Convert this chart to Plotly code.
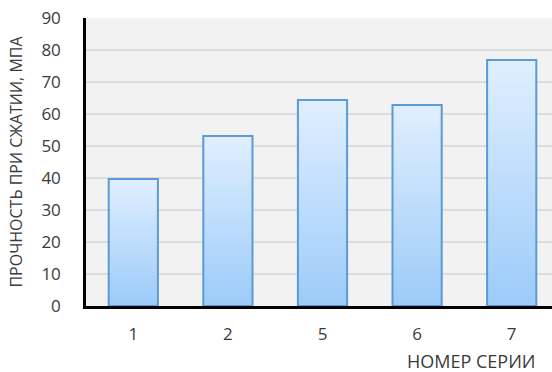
import plotly.graph_objects as go

categories = ["1", "2", "5", "6", "7"]
strength = [39.7, 53.1, 64.4, 62.8, 76.9]
y_ticks = [0, 10, 20, 30, 40, 50, 60, 70, 80, 90]

font_family = "Open Sans, DejaVu Sans, sans-serif"
text_color = "#3a3a3a"
bar_w = 0.52

fig = go.Figure()
for i, v in enumerate(strength):
    x0, x1 = i - bar_w / 2, i + bar_w / 2
    fig.add_trace(go.Scatter(
        x=[x0, x1, x1, x0, x0],
        y=[0, 0, v, v, 0],
        mode="lines",
        fill="toself",
        fillgradient=dict(type="vertical",
                          colorscale=[[0, "#9ccbf9"], [1, "#e0efff"]]),
        line=dict(color="#5b9bd5", width=2),
        hoverinfo="skip",
        showlegend=False,
    ))

fig.update_layout(
    width=552, height=372,
    margin=dict(l=86, r=0, t=18, b=66),
    paper_bgcolor="white",
    plot_bgcolor="#f2f2f2",
    font=dict(family=font_family, color=text_color, size=17),
    showlegend=False,
    xaxis=dict(
        range=[-0.5, 4.426],
        tickmode="array",
        tickvals=list(range(len(categories))),
        ticktext=categories,
        showgrid=False, zeroline=False,
        showline=True, linecolor="black", linewidth=2.5,
        ticks="", ticklabelstandoff=11,
        tickfont=dict(size=17, color=text_color),
        fixedrange=True,
    ),
    yaxis=dict(
        range=[0, 90],
        tickmode="array",
        tickvals=y_ticks,
        showgrid=True, gridcolor="#dcdcdc", gridwidth=1.5,
        zeroline=False,
        showline=True, linecolor="black", linewidth=2.5,
        ticks="", ticklabelstandoff=19,
        tickfont=dict(size=17, color=text_color),
        title=dict(text="ПРОЧНОСТЬ ПРИ СЖАТИИ, МПА",
                   font=dict(size=16, color=text_color), standoff=15),
        fixedrange=True,
    ),
    annotations=[dict(
        text="НОМЕР СЕРИИ", xref="paper", yref="paper",
        x=(538 - 86) / (552 - 86), y=-55 / 288,
        xanchor="right", yanchor="middle", showarrow=False,
        font=dict(size=18, color=text_color),
    )],
)

fig.write_html("out.html")
